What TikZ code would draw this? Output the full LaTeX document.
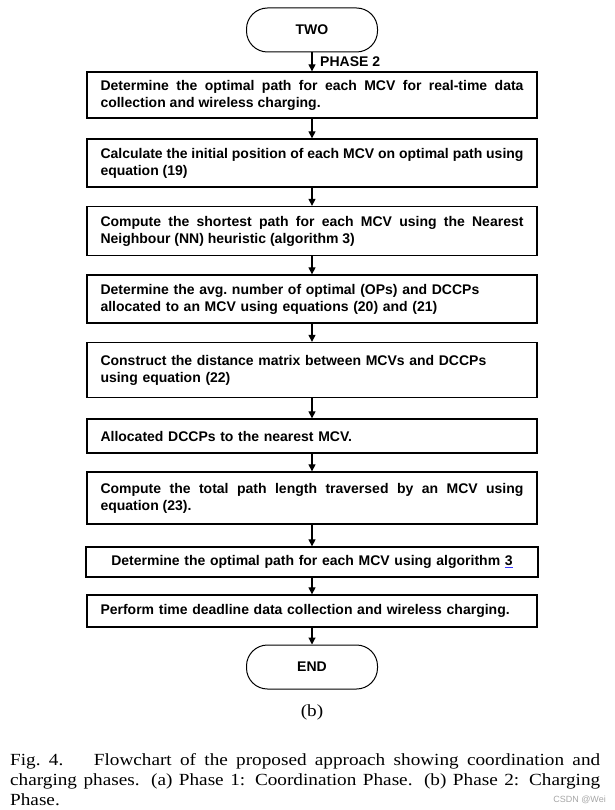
\documentclass[tikz,border=0pt]{standalone}
\usepackage{fontspec}
\setmainfont{Liberation Serif}
\setsansfont{Liberation Sans}
\newfontfamily\capfont{Liberation Serif}[FakeStretch=1.13]
\usepackage{xcolor}
\usetikzlibrary{shapes, arrows.meta, positioning}
\hyphenpenalty=10000
\exhyphenpenalty=10000

\tikzset{
	stepbox/.style={draw, line width=1.3pt, text width=423pt, inner xsep=13.5pt, inner ysep=0pt, font=\sffamily\bfseries\fontsize{14}{17}\selectfont},
	endbox/.style={draw, line width=1pt, rounded corners=21pt, minimum width=131pt, minimum height=44pt, font=\sffamily\bfseries\fontsize{14}{17}\selectfont},
	flow/.style={line width=1.1pt, -{Triangle[length=7pt, width=7pt]}}
}

\begin{document}
\begin{tikzpicture}[x=1pt, y=-1pt]
			\useasboundingbox (0,0) rectangle (614,810);
			
			\node[endbox] (two) at (312,30) {TWO};
			\node[stepbox, align=justify, minimum height=46pt] (s1) at (312,95) {Determine the optimal path for each MCV for real-time data collection and wireless charging.};
			\node[stepbox, align=justify, minimum height=48pt] (s2) at (312,163) {Calculate the initial position of each MCV on optimal path using equation (19)};
			\node[stepbox, align=justify, minimum height=49pt] (s3) at (312,231) {Compute the shortest path for each MCV using the Nearest Neighbour (NN) heuristic (algorithm 3)};
			\node[stepbox, align=left, minimum height=48pt] (s4) at (312,299) {Determine the avg.\ number of optimal (OPs) and DCCPs allocated to an MCV using equations (20) and (21)};
			\node[stepbox, align=left, minimum height=55pt] (s5) at (312,370) {Construct the distance matrix between MCVs and DCCPs using equation (22)};
			\node[stepbox, align=left, minimum height=34pt] (s6) at (312,436) {Allocated DCCPs to the nearest MCV.};
			\node[stepbox, align=justify, minimum height=52pt] (s7) at (312,498) {Compute the total path length traversed by an MCV using equation (23).};
			\node[stepbox, align=center, minimum height=30pt, text width=425pt] (s8) at (312,562) {Determine the optimal path for each MCV using algorithm {\color{blue!80}\underline{\color{black}3}}};
			\node[stepbox, align=left, minimum height=32pt] (s9) at (312,611) {Perform time deadline data collection and wireless charging.};
			\node[endbox] (end) at (312,667) {END};
			
			\node[anchor=west, font=\sffamily\bfseries\fontsize{14}{17}\selectfont, inner sep=0pt] (phase) at (320,62) {PHASE 2};
			
			\draw[flow] (two) -- (s1);
			\draw[flow] (s1) -- (s2);
			\draw[flow] (s2) -- (s3);
			\draw[flow] (s3) -- (s4);
			\draw[flow] (s4) -- (s5);
			\draw[flow] (s5) -- (s6);
			\draw[flow] (s6) -- (s7);
			\draw[flow] (s7) -- (s8);
			\draw[flow] (s8) -- (s9);
			\draw[flow] (s9) -- (end);
			
			\node[font=\capfont\fontsize{17}{20}\selectfont] (sub) at (312,712) {(b)};
			\node[anchor=north west, text width=590pt, align=justify, inner sep=0pt, font=\capfont\fontsize{17}{20}\selectfont] (caption) at (10,753) {Fig.~4.\hspace{1.8em}Flowchart of the proposed approach showing coordination and charging phases. (a) Phase 1: Coordination Phase. (b) Phase 2: Charging Phase.};
			\node[anchor=east, text=gray!70, inner sep=0pt, font=\sffamily\fontsize{9}{9}\selectfont] (mark) at (606,800) {CSDN @Wei};
		\end{tikzpicture}
\end{document}
